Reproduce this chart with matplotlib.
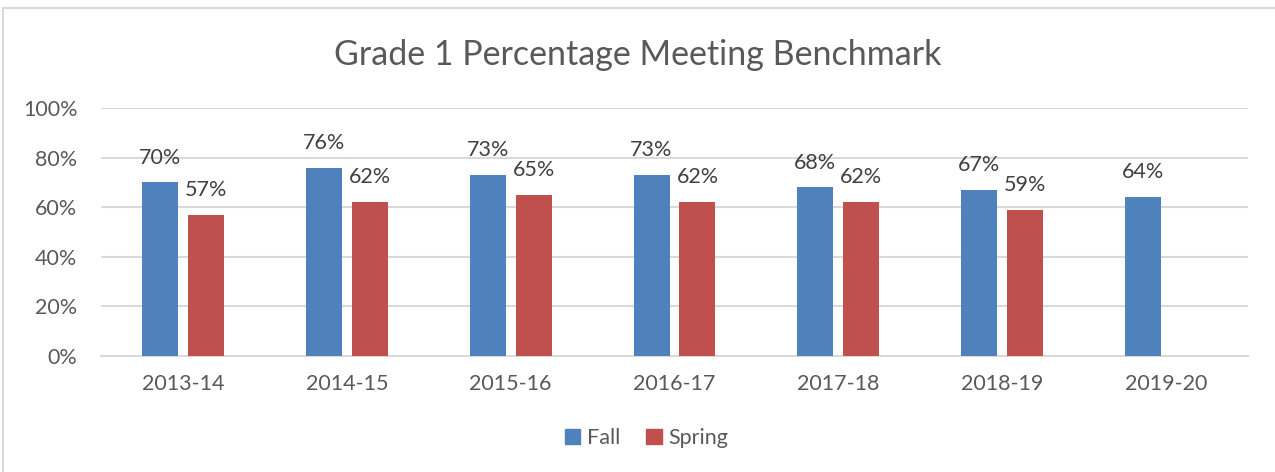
import matplotlib.pyplot as plt
import numpy as np
from matplotlib.patches import Rectangle

plt.rcParams['font.family'] = ['Lato', 'DejaVu Sans']

years = ['2013-14', '2014-15', '2015-16', '2016-17', '2017-18', '2018-19', '2019-20']
fall = [70, 76, 73, 73, 68, 67, 64]
spring = [57, 62, 65, 62, 62, 59, None]

blue = '#4F81BD'
red = '#C0504D'
gray = '#595959'

fig = plt.figure(figsize=(12.75, 4.72), dpi=100)
W, H = 1275, 472

# chart border
fig.patches.append(Rectangle((3 / W, -0.1), 1.2, 1.1 - 8 / H, transform=fig.transFigure,
                             fill=False, edgecolor='#D9D9D9', linewidth=1.5))

ax = fig.add_axes([101 / W, 1 - 356 / H, (1248 - 101) / W, (356 - 108) / H])

x = np.arange(len(years))
w = 0.22
off = 0.14
for i in range(len(years)):
    ax.bar(x[i] - off, fall[i] / 100, w, color=blue, zorder=3)
    ax.text(x[i] - off, fall[i] / 100 + 0.1, f'{fall[i]}%', ha='center', va='center',
            fontsize=15.5, color='#404040')
    if spring[i] is not None:
        ax.bar(x[i] + off, spring[i] / 100, w, color=red, zorder=3)
        ax.text(x[i] + off, spring[i] / 100 + 0.1, f'{spring[i]}%', ha='center', va='center',
                fontsize=15.5, color='#404040')

ax.set_xlim(-0.5, len(years) - 0.5)
ax.set_ylim(0, 1)
ax.set_yticks(np.arange(0, 1.01, 0.2))
ax.set_yticklabels([f'{int(round(v * 100))}%' for v in np.arange(0, 1.01, 0.2)])
ax.set_xticks(x)
ax.set_xticklabels(years)
ax.tick_params(axis='both', length=0, labelsize=15.5, labelcolor=gray)
ax.tick_params(axis='y', pad=17)
ax.tick_params(axis='x', pad=13)
ax.grid(axis='y', color='#D9D9D9', linewidth=1.5, zorder=0)
for s in ['top', 'right', 'left']:
    ax.spines[s].set_visible(False)
ax.spines['bottom'].set_color('#D9D9D9')
ax.spines['bottom'].set_linewidth(1.5)

fig.text(0.5, 1 - 55 / H, 'Grade 1 Percentage Meeting Benchmark', ha='center', va='center',
         fontsize=24.5, color=gray)

handles = [Rectangle((0, 0), 1, 1, color=blue), Rectangle((0, 0), 1, 1, color=red)]
fig.legend(handles, ['Fall', 'Spring'], loc='center', bbox_to_anchor=(0.507, 1 - 438 / H),
           ncol=2, frameon=False, fontsize=15.5, labelcolor=gray, handlelength=0.72,
           handleheight=0.72, handletextpad=0.3, columnspacing=1.2)

fig.savefig('out.png', dpi=100)
